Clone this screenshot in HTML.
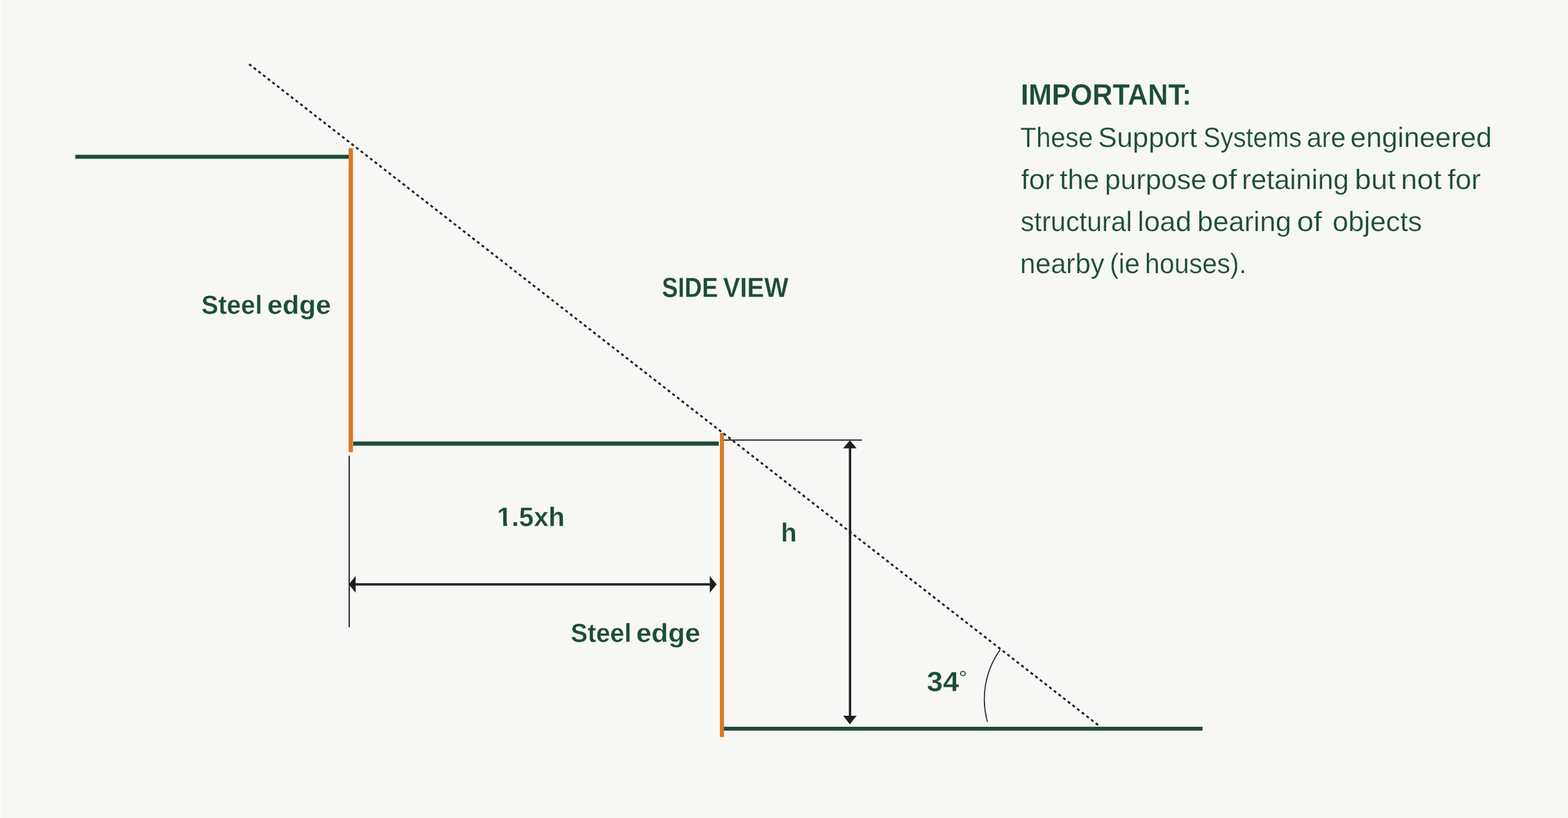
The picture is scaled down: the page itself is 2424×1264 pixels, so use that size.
<!DOCTYPE html>
<html lang="en">
<head>
<meta charset="utf-8">
<title>Side view - steel edge support systems</title>
<style>
html,body{margin:0;padding:0;background:#f7f7f5;}
body{width:2424px;height:1264px;overflow:hidden;}
svg{display:block;}
svg text{font-family:"Liberation Sans",sans-serif;white-space:pre;text-rendering:geometricPrecision;}
.tx{will-change:opacity;}
</style>
</head>
<body>
<svg width="2424" height="1264" viewBox="0 0 2424 1264">
<rect x="0" y="0" width="2424" height="1264" fill="#f7f7f5"/>
<rect x="0" y="0" width="1" height="1264" fill="#ffffff"/>
<g fill="#1c4d36">
<rect x="116.4" y="239.2" width="423.6" height="6.1"/>
<rect x="546" y="682.2" width="565.1" height="6.5"/>
<rect x="1119" y="1123" width="740" height="6"/>
</g>
<g fill="#231f20">
<rect x="538.85" y="704.1" width="1.95" height="264.9"/>
<rect x="1119" y="679.1" width="213.4" height="1.8"/>
</g>
<g fill="#d97a25">
<rect x="539.05" y="229" width="6.6" height="469.7"/>
<rect x="1112.9" y="669" width="6.3" height="469.9"/>
</g>
<line x1="385.1" y1="99.1" x2="1697.5" y2="1120.3" stroke="#231f20" stroke-width="3" stroke-dasharray="4.5 4.6121"/>
<g fill="#231f20">
<rect x="545" y="901.2" width="558" height="3.6"/>
<polygon points="539.2,903 549.8,889.9 549.8,916.1"/>
<polygon points="1107.9,903 1097.3,889.9 1097.3,916.1"/>
<rect x="1312.3" y="688" width="3.6" height="424"/>
<polygon points="1313.9,680.2 1303.4,692.8 1324.3,692.8"/>
<polygon points="1313.9,1119.2 1303.4,1106 1324.3,1106"/>
</g>
<path d="M1546.12,1004.07 A131.18,131.18 0 0 0 1526.48,1115.62" fill="none" stroke="#231f20" stroke-width="1.6"/>
<g fill="#1c4d36" stroke="#f7f7f5" class="tx">
<text font-weight="bold" stroke-width="0.3"><tspan x="1577.92" y="162.40" font-size="46.00" textLength="264.14" lengthAdjust="spacingAndGlyphs">IMPORTANT:</tspan></text>
<text font-weight="normal" stroke-width="0.25"><tspan x="1577.23" y="227.40" font-size="43.00" textLength="112.46" lengthAdjust="spacingAndGlyphs">These</tspan> <tspan x="1697.63" y="227.40" font-size="43.00" textLength="153.12" lengthAdjust="spacingAndGlyphs">Support</tspan> <tspan x="1860.28" y="227.40" font-size="43.00" textLength="152.01" lengthAdjust="spacingAndGlyphs">Systems</tspan> <tspan x="2019.97" y="227.40" font-size="43.00" textLength="60.46" lengthAdjust="spacingAndGlyphs">are</tspan> <tspan x="2087.60" y="227.40" font-size="43.00" textLength="218.79" lengthAdjust="spacingAndGlyphs">engineered</tspan></text>
<text font-weight="normal" stroke-width="0.25"><tspan x="1578.47" y="292.40" font-size="43.00" textLength="51.07" lengthAdjust="spacingAndGlyphs">for</tspan> <tspan x="1638.33" y="292.40" font-size="43.00" textLength="61.03" lengthAdjust="spacingAndGlyphs">the</tspan> <tspan x="1708.03" y="292.40" font-size="43.00" textLength="157.21" lengthAdjust="spacingAndGlyphs">purpose</tspan> <tspan x="1872.76" y="292.40" font-size="43.00" textLength="39.40" lengthAdjust="spacingAndGlyphs">of</tspan> <tspan x="1919.70" y="292.40" font-size="43.00" textLength="165.52" lengthAdjust="spacingAndGlyphs">retaining</tspan> <tspan x="2094.36" y="292.40" font-size="43.00" textLength="63.33" lengthAdjust="spacingAndGlyphs">but</tspan> <tspan x="2165.71" y="292.40" font-size="43.00" textLength="62.81" lengthAdjust="spacingAndGlyphs">not</tspan> <tspan x="2237.77" y="292.40" font-size="43.00" textLength="51.50" lengthAdjust="spacingAndGlyphs">for</tspan></text>
<text font-weight="normal" stroke-width="0.25"><tspan x="1577.80" y="357.40" font-size="43.00" textLength="172.29" lengthAdjust="spacingAndGlyphs">structural</tspan> <tspan x="1758.86" y="357.40" font-size="43.00" textLength="83.16" lengthAdjust="spacingAndGlyphs">load</tspan> <tspan x="1851.04" y="357.40" font-size="43.00" textLength="145.06" lengthAdjust="spacingAndGlyphs">bearing</tspan> <tspan x="2004.99" y="357.40" font-size="43.00" textLength="38.60" lengthAdjust="spacingAndGlyphs">of</tspan> <tspan x="2059.95" y="357.40" font-size="43.00" textLength="138.53" lengthAdjust="spacingAndGlyphs">objects</tspan></text>
<text font-weight="normal" stroke-width="0.25"><tspan x="1577.01" y="422.40" font-size="43.00" textLength="130.31" lengthAdjust="spacingAndGlyphs">nearby</tspan> <tspan x="1715.41" y="422.40" font-size="43.00" textLength="46.59" lengthAdjust="spacingAndGlyphs">(ie</tspan> <tspan x="1770.07" y="422.40" font-size="43.00" textLength="156.76" lengthAdjust="spacingAndGlyphs">houses).</tspan></text>
<text font-weight="bold" stroke-width="0.3"><tspan x="1023.21" y="458.70" font-size="43.00" textLength="86.76" lengthAdjust="spacingAndGlyphs">SIDE</tspan> <tspan x="1117.71" y="458.70" font-size="43.00" textLength="101.08" lengthAdjust="spacingAndGlyphs">VIEW</tspan></text>
<text font-weight="bold" stroke-width="0.3"><tspan x="311.24" y="485.20" font-size="40.50" textLength="94.14" lengthAdjust="spacingAndGlyphs">Steel</tspan> <tspan x="413.30" y="485.20" font-size="40.50" textLength="98.41" lengthAdjust="spacingAndGlyphs">edge</tspan></text>
<text font-weight="bold" stroke-width="0.3"><tspan x="882.25" y="992.20" font-size="40.50" textLength="93.82" lengthAdjust="spacingAndGlyphs">Steel</tspan> <tspan x="983.52" y="992.20" font-size="40.50" textLength="99.06" lengthAdjust="spacingAndGlyphs">edge</tspan></text>
<text font-weight="bold" stroke-width="0.3"><tspan x="768.19" y="813.30" font-size="41.50" textLength="104.74" lengthAdjust="spacingAndGlyphs">1.5xh</tspan></text>
<text font-weight="bold" stroke-width="0.3"><tspan x="1207.32" y="836.70" font-size="41.00" textLength="24.41" lengthAdjust="spacingAndGlyphs">h</tspan></text>
<text font-weight="bold" stroke-width="0.3"><tspan x="1432.76" y="1067.80" font-size="43.00" textLength="49.80" lengthAdjust="spacingAndGlyphs">34</tspan><tspan x="1482.57" y="1057.30" font-size="30.00" textLength="12.30" lengthAdjust="spacingAndGlyphs" stroke-width="0.5">°</tspan></text>
</g>
<g fill="#f7f7f5"><rect x="769" y="808" width="9" height="6"/><rect x="784" y="808" width="7" height="6"/></g>
</svg>
</body>
</html>
